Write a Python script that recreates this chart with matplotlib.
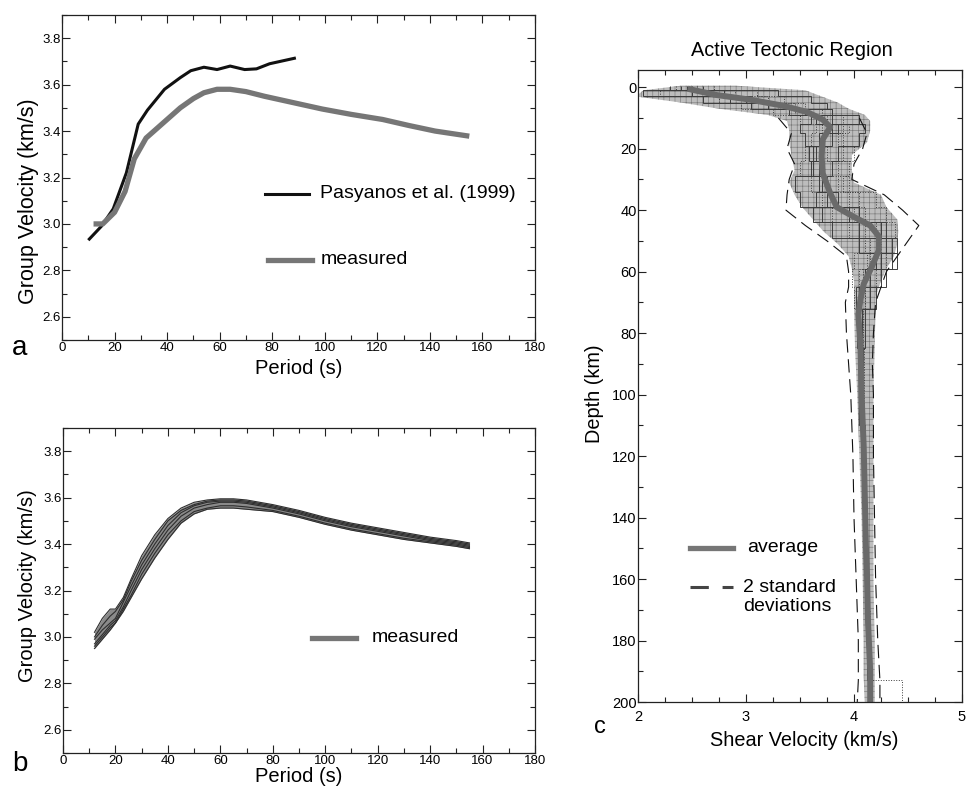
import numpy as np
import matplotlib
matplotlib.use("Agg")
import matplotlib.pyplot as plt
from matplotlib.lines import Line2D
from matplotlib.ticker import MultipleLocator, FormatStrFormatter

# === DATA ===
# panel a: Pasyanos et al. (1999) group velocity curve
pas_period = [10, 15, 19.5, 24.5, 29, 32.5, 39, 45, 49, 54, 59, 64, 69.5, 74, 79, 89]
pas_vel = [2.93, 2.99, 3.065, 3.22, 3.43, 3.49, 3.58, 3.63, 3.66, 3.675,
           3.665, 3.68, 3.665, 3.668, 3.69, 3.715]

# panel a: measured average
meas_period = [12, 15.5, 20, 24, 27.5, 32, 36, 40, 45, 50, 54, 59, 64, 70,
               77, 87, 99, 110, 122, 132, 142, 155]
meas_vel = [3.0, 3.0, 3.05, 3.14, 3.28, 3.37, 3.41, 3.45, 3.50, 3.54, 3.565,
            3.58, 3.58, 3.57, 3.55, 3.525, 3.495, 3.472, 3.45, 3.424, 3.40, 3.378]

# panel b: individual measured curves
b_period = [12, 15, 18, 20, 23, 26, 30, 35, 40, 45, 50, 55, 60, 65, 70, 80,
            90, 100, 110, 120, 130, 140, 150, 155]
b_curves = [
    [3.02, 3.08, 3.12, 3.12, 3.17, 3.25, 3.35, 3.44, 3.51, 3.555, 3.58, 3.59,
     3.595, 3.595, 3.59, 3.57, 3.545, 3.515, 3.49, 3.47, 3.45, 3.43, 3.415, 3.405],
    [3.00, 3.05, 3.09, 3.11, 3.16, 3.24, 3.33, 3.42, 3.50, 3.545, 3.57, 3.585,
     3.59, 3.59, 3.585, 3.565, 3.54, 3.51, 3.485, 3.465, 3.445, 3.425, 3.41, 3.40],
    [2.99, 3.03, 3.06, 3.08, 3.15, 3.22, 3.31, 3.40, 3.48, 3.535, 3.565, 3.58,
     3.585, 3.585, 3.58, 3.56, 3.535, 3.505, 3.48, 3.46, 3.44, 3.42, 3.405, 3.395],
    [2.97, 3.01, 3.05, 3.07, 3.13, 3.20, 3.29, 3.38, 3.46, 3.52, 3.555, 3.57,
     3.58, 3.58, 3.575, 3.555, 3.53, 3.50, 3.475, 3.455, 3.435, 3.415, 3.40, 3.39],
    [2.96, 3.00, 3.04, 3.06, 3.12, 3.18, 3.27, 3.36, 3.44, 3.50, 3.54, 3.555,
     3.565, 3.565, 3.56, 3.545, 3.52, 3.49, 3.465, 3.445, 3.425, 3.41, 3.395, 3.385],
    [2.95, 2.99, 3.03, 3.06, 3.11, 3.17, 3.25, 3.34, 3.42, 3.49, 3.53, 3.55,
     3.555, 3.555, 3.55, 3.54, 3.515, 3.485, 3.46, 3.44, 3.42, 3.405, 3.39, 3.38],
]

# panel c: envelope of the model ensemble
env_depth = [-0.5, 1, 3, 5, 7, 9, 11, 14, 18, 22, 27, 31, 35, 39, 43, 47, 51,
             55, 59, 63, 68, 72, 85, 100, 120, 140, 160, 180, 192, 200]
env_min = [2.40, 2.05, 1.98, 2.40, 2.75, 3.20, 3.38, 3.40, 3.40, 3.42, 3.45,
           3.40, 3.45, 3.52, 3.62, 3.72, 3.85, 3.95, 3.98, 4.00, 4.00, 4.00,
           4.01, 4.03, 4.05, 4.07, 4.08, 4.09, 4.09, 4.10]
env_max = [2.90, 3.55, 3.70, 3.85, 3.95, 4.10, 4.15, 4.15, 4.12, 3.98, 3.98,
           4.00, 4.25, 4.30, 4.40, 4.41, 4.40, 4.37, 4.30, 4.25, 4.20, 4.20,
           4.19, 4.18, 4.18, 4.18, 4.18, 4.19, 4.19, 4.19]

# panel c: layered models (layer edges in km, shear velocity per layer)
layer_edges = [-0.5, 1, 3, 5, 7, 9, 12, 15, 19, 24, 29, 34, 39, 44, 49, 54,
               59, 65, 72, 85, 110, 140, 170, 193, 200]
models = [
    [2.40, 2.05, 2.60, 3.05, 3.40, 3.65, 3.85, 3.80, 3.65, 3.60, 3.70, 3.85,
     4.05, 4.30, 4.35, 4.25, 4.10, 4.05, 4.03, 4.06, 4.08, 4.10, 4.12, 4.14],
    [2.70, 3.10, 3.35, 3.55, 3.70, 3.90, 3.95, 3.70, 3.55, 3.50, 3.60, 3.70,
     3.80, 3.95, 4.15, 4.30, 4.20, 4.10, 4.08, 4.09, 4.10, 4.12, 4.15, 4.44],
    [2.30, 2.50, 2.85, 3.20, 3.55, 3.80, 4.10, 4.05, 3.85, 3.80, 3.75, 3.65,
     3.70, 4.05, 4.40, 4.35, 4.15, 4.02, 4.04, 4.05, 4.08, 4.10, 4.13, 4.16],
    [2.55, 2.90, 3.20, 3.45, 3.60, 3.72, 3.65, 3.60, 3.75, 3.95, 3.90, 4.20,
     4.30, 4.38, 4.10, 4.00, 3.98, 4.00, 4.06, 4.08, 4.10, 4.11, 4.14, 4.15],
    [2.45, 3.30, 3.60, 3.75, 3.80, 3.60, 3.50, 3.55, 3.62, 3.68, 3.45, 3.50,
     3.95, 4.25, 4.30, 4.40, 4.25, 4.15, 4.07, 4.08, 4.09, 4.12, 4.13, 4.15],
    [2.35, 2.20, 2.75, 2.95, 3.25, 3.50, 3.70, 3.90, 4.00, 3.70, 3.85, 3.95,
     4.10, 4.20, 4.25, 4.15, 4.05, 4.10, 4.05, 4.06, 4.08, 4.10, 4.12, 4.15],
    [2.60, 2.80, 3.05, 3.35, 3.80, 4.05, 3.80, 3.68, 3.58, 3.62, 3.68, 3.75,
     3.62, 3.80, 4.05, 4.20, 4.30, 4.20, 4.10, 4.07, 4.09, 4.11, 4.13, 4.16],
    [2.50, 2.60, 3.00, 3.30, 3.45, 3.75, 3.90, 3.85, 3.90, 3.85, 3.95, 4.05,
     4.00, 4.10, 4.20, 4.12, 4.08, 4.05, 4.04, 4.07, 4.10, 4.11, 4.14, 4.17],
]

# panel c: average profile
avg_depth = [0.5, 2.5, 4, 6, 8, 10.5, 13, 17, 22.5, 28, 34.5, 39, 42, 45,
             48.5, 53, 58, 64, 69, 74, 84, 100, 117, 133, 149, 158, 174, 190, 200]
avg_vs = [2.46, 2.72, 3.03, 3.34, 3.56, 3.71, 3.78, 3.71, 3.70, 3.71, 3.78,
          3.84, 3.99, 4.15, 4.23, 4.23, 4.17, 4.09, 4.06, 4.04, 4.06, 4.07,
          4.09, 4.10, 4.11, 4.12, 4.13, 4.15, 4.15]

# panel c: two standard deviation bounds
std_depth = [10, 15, 20, 25, 30, 35, 40, 45, 50, 55, 60, 65, 70, 80,
             90, 100, 120, 140, 160, 180, 193, 200]
std_left = [3.30, 3.42, 3.38, 3.45, 3.40, 3.38, 3.37, 3.55, 3.75,
            3.93, 3.95, 3.95, 3.92, 3.93, 3.95, 3.97, 3.99, 4.00, 4.02, 4.04,
            4.04, 4.03]
std_right = [4.05, 4.12, 4.08, 4.00, 3.98, 4.28, 4.45, 4.60, 4.50,
             4.40, 4.30, 4.25, 4.20, 4.18, 4.17, 4.18, 4.18, 4.19, 4.20, 4.22,
             4.24, 4.24]

# === STYLE ===
W, H = 969, 795
plt.rcParams["font.family"] = ["Liberation Sans", "DejaVu Sans"]
plt.rcParams["hatch.linewidth"] = 0.45
plt.rcParams["hatch.color"] = "#7a7a7a"
TICK_FONT = ["Liberation Sans Narrow", "Liberation Sans", "DejaVu Sans"]
BLACK = "#111111"
GRAY = "#767676"

fig = plt.figure(figsize=(W / 100, H / 100), dpi=100)


def box(x0, y0, x1, y1):
    # pixel box (top-left origin) -> figure fraction rect
    return [x0 / W, 1 - y1 / H, (x1 - x0) / W, (y1 - y0) / H]


def ftext(x, y, s, **kw):
    fig.text(x / W, 1 - y / H, s, **kw)


def fline(x0, x1, y, **kw):
    fig.add_artist(Line2D([x0 / W, x1 / W], [1 - y / H, 1 - y / H], **kw))


def style_axes(ax, size):
    for sp in ax.spines.values():
        sp.set_linewidth(0.9)
        sp.set_color("#222222")
    ax.tick_params(which="both", direction="in", top=True, right=True,
                   width=0.8, color="#222222")
    ax.tick_params(which="major", length=6)
    ax.tick_params(which="minor", length=3.5)
    for lab in ax.get_xticklabels() + ax.get_yticklabels():
        lab.set_family(TICK_FONT)
        lab.set_fontsize(size)


def group_axes(rect):
    ax = fig.add_axes(rect)
    ax.set_xlim(0, 180)
    ax.set_ylim(2.5, 3.9)
    ax.xaxis.set_major_locator(MultipleLocator(20))
    ax.xaxis.set_minor_locator(MultipleLocator(10))
    ax.yaxis.set_major_locator(MultipleLocator(0.2))
    ax.yaxis.set_minor_locator(MultipleLocator(0.1))
    ax.yaxis.set_major_formatter(FormatStrFormatter("%.1f"))
    ax.tick_params(axis="x", pad=1.5)
    ax.tick_params(axis="y", pad=1)
    style_axes(ax, 9.5)
    return ax


# --- panel a ---
ax_a = group_axes(box(62, 15, 535, 340))
ax_a.plot(pas_period, pas_vel, color=BLACK, lw=2.2, solid_capstyle="butt")
ax_a.plot(meas_period, meas_vel, color=GRAY, lw=3.8, solid_capstyle="butt")

fline(265, 309, 194, color=BLACK, lw=2.2)
ftext(320, 194, "Pasyanos et al. (1999)", fontsize=14, va="center")
fline(268, 312, 260, color=GRAY, lw=3.8)
ftext(321, 260, "measured", fontsize=14, va="center")

ftext(29, 201, "Group Velocity (km/s)", fontsize=15.5, rotation=90,
      ha="center", va="center")
ftext(299, 369, "Period (s)", fontsize=14.5, ha="center", va="center")
ftext(12, 355, "a", fontsize=20, va="baseline")

# --- panel b ---
ax_b = group_axes(box(63, 428, 535, 753))
b_arr = np.array(b_curves)
ax_b.fill_between(b_period, b_arr.min(axis=0), b_arr.max(axis=0),
                  color="#8a8a8a", lw=0)
for curve in b_curves:
    ax_b.plot(b_period, curve, color="#2e2e2e", lw=0.8)

fline(312, 356, 638, color=GRAY, lw=3.8)
ftext(372, 638, "measured", fontsize=14, va="center")

ftext(28, 586, "Group Velocity (km/s)", fontsize=14.5, rotation=90,
      ha="center", va="center")
ftext(299, 777, "Period (s)", fontsize=14.5, ha="center", va="center")
ftext(12, 771, "b", fontsize=20, va="baseline")

# --- panel c ---
ax_c = fig.add_axes(box(638, 70, 962, 702))
ax_c.set_xlim(2, 5)
ax_c.set_ylim(200, -5.6)
ax_c.xaxis.set_major_locator(MultipleLocator(1))
ax_c.xaxis.set_minor_locator(MultipleLocator(0.25))
ax_c.yaxis.set_major_locator(MultipleLocator(20))
ax_c.yaxis.set_minor_locator(MultipleLocator(10))
ax_c.tick_params(axis="x", pad=6)
ax_c.tick_params(axis="y", pad=1)
style_axes(ax_c, 10.5)

ax_c.fill_betweenx(env_depth, env_min, env_max, facecolor="#bdbdbd",
                   hatch="+++", lw=0)
for i, m in enumerate(models):
    ls = "-" if i % 2 == 0 else ":"
    ax_c.stairs(m, layer_edges, orientation="horizontal", baseline=None,
                color="#3c3c3c", lw=0.7, ls=ls)
ax_c.plot(std_left, std_depth, color=BLACK, lw=0.8, dashes=(12, 6))
ax_c.plot(std_right, std_depth, color=BLACK, lw=0.8, dashes=(12, 6))
ax_c.plot(avg_vs, avg_depth, color="#6a6a6a", lw=4.3, solid_capstyle="butt")

fline(690, 733, 548, color=GRAY, lw=3.8)
ftext(747, 548, "average", fontsize=14, va="center")
fline(690, 733, 587, color="#444444", lw=2.2, dashes=(6, 4.5))
ftext(743, 597, "2 standard\ndeviations", fontsize=14, va="center",
      linespacing=1.1)

ftext(792, 50, "Active Tectonic Region", fontsize=14.3, ha="center",
      va="center")
ftext(595, 394, "Depth (km)", fontsize=14.3, rotation=90, ha="center",
      va="center")
ftext(804, 740, "Shear Velocity (km/s)", fontsize=14.3, ha="center",
      va="center")
ftext(594, 733, "c", fontsize=17, va="baseline")

fig.savefig("out.png", dpi=100)
